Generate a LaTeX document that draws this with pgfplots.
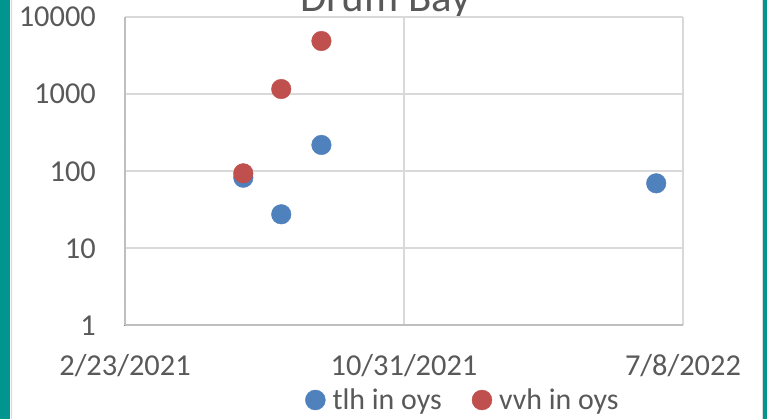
\documentclass[border=0pt]{standalone}
\usepackage{pgfplots}
\pgfplotsset{compat=1.18}
\usepackage{fontspec}
\setmainfont{Carlito}
\definecolor{myblue}{HTML}{4F81BD}
\definecolor{myred}{HTML}{C0504D}
\definecolor{gridc}{HTML}{D9D9D9}
\definecolor{axisc}{HTML}{BFBFBF}
\definecolor{textc}{HTML}{595959}
\definecolor{tealc}{HTML}{00968F}
\begin{document}
\begin{tikzpicture}[x=1bp,y=1bp]
\useasboundingbox (0,0) rectangle (767,419);
\fill[white] (0,0) rectangle (767,419);
\fill[tealc] (0,0) rectangle (10,419);
\draw[gridc, line width=1.2bp] (11.2,0) -- (11.2,419);
\fill[tealc] (763,0) rectangle (767,419);
\draw[gridc, line width=1.2bp] (762.2,0) -- (762.2,419);
\node[anchor=base, font=\fontsize{43}{43}\selectfont, text=textc] at (385.5,407) {Drum Bay};
\begin{axis}[
  at={(125bp,94bp)}, anchor=south west,
  scale only axis, width=558bp, height=308bp,
  xmin=0, xmax=500, ymode=log, ymin=1, ymax=10000,
  xtick={0,250,500}, xticklabels={2/23/2021,10/31/2021,7/8/2022},
  ytick={1,10,100,1000,10000}, yticklabels={1,10,100,1000,10000},
  minor ytick={}, 
  grid=major, grid style={color=gridc, line width=1.5bp},
  axis x line=bottom, axis y line=left,
  axis line style={-, color=axisc, line width=1.5bp},
  major tick length=0pt,
  ticklabel style={font=\fontsize{30.5}{30.5}\selectfont, text=textc, inner sep=0pt},
  yticklabel style={anchor=base east, xshift=-29bp, yshift=-10bp},
  xticklabel style={anchor=base, yshift=-50bp},
  clip=false,
  legend style={at={(0.3172,-0.2435)}, anchor=west, draw=none, fill=none,
    legend columns=2, font=\fontsize{30}{30}\selectfont, text=textc,
    nodes={inner sep=0pt},
    /tikz/every odd column/.append style={column sep=7bp},
    /tikz/every even column/.append style={column sep=30bp}},
  legend image code/.code={\fill (0bp,0bp) circle (10bp);},
]
\addplot[only marks, mark=*, mark size=9.8bp, color=myblue] coordinates {
  (106,81.8) (140,27.4) (176,218) (476,69.2)
};
\addlegendentry{tlh in oys}
\addplot[only marks, mark=*, mark size=9.8bp, color=myred] coordinates {
  (106,93.3) (140,1160) (176,4880)
};
\addlegendentry{vvh in oys}
\end{axis}
\end{tikzpicture}
\end{document}
